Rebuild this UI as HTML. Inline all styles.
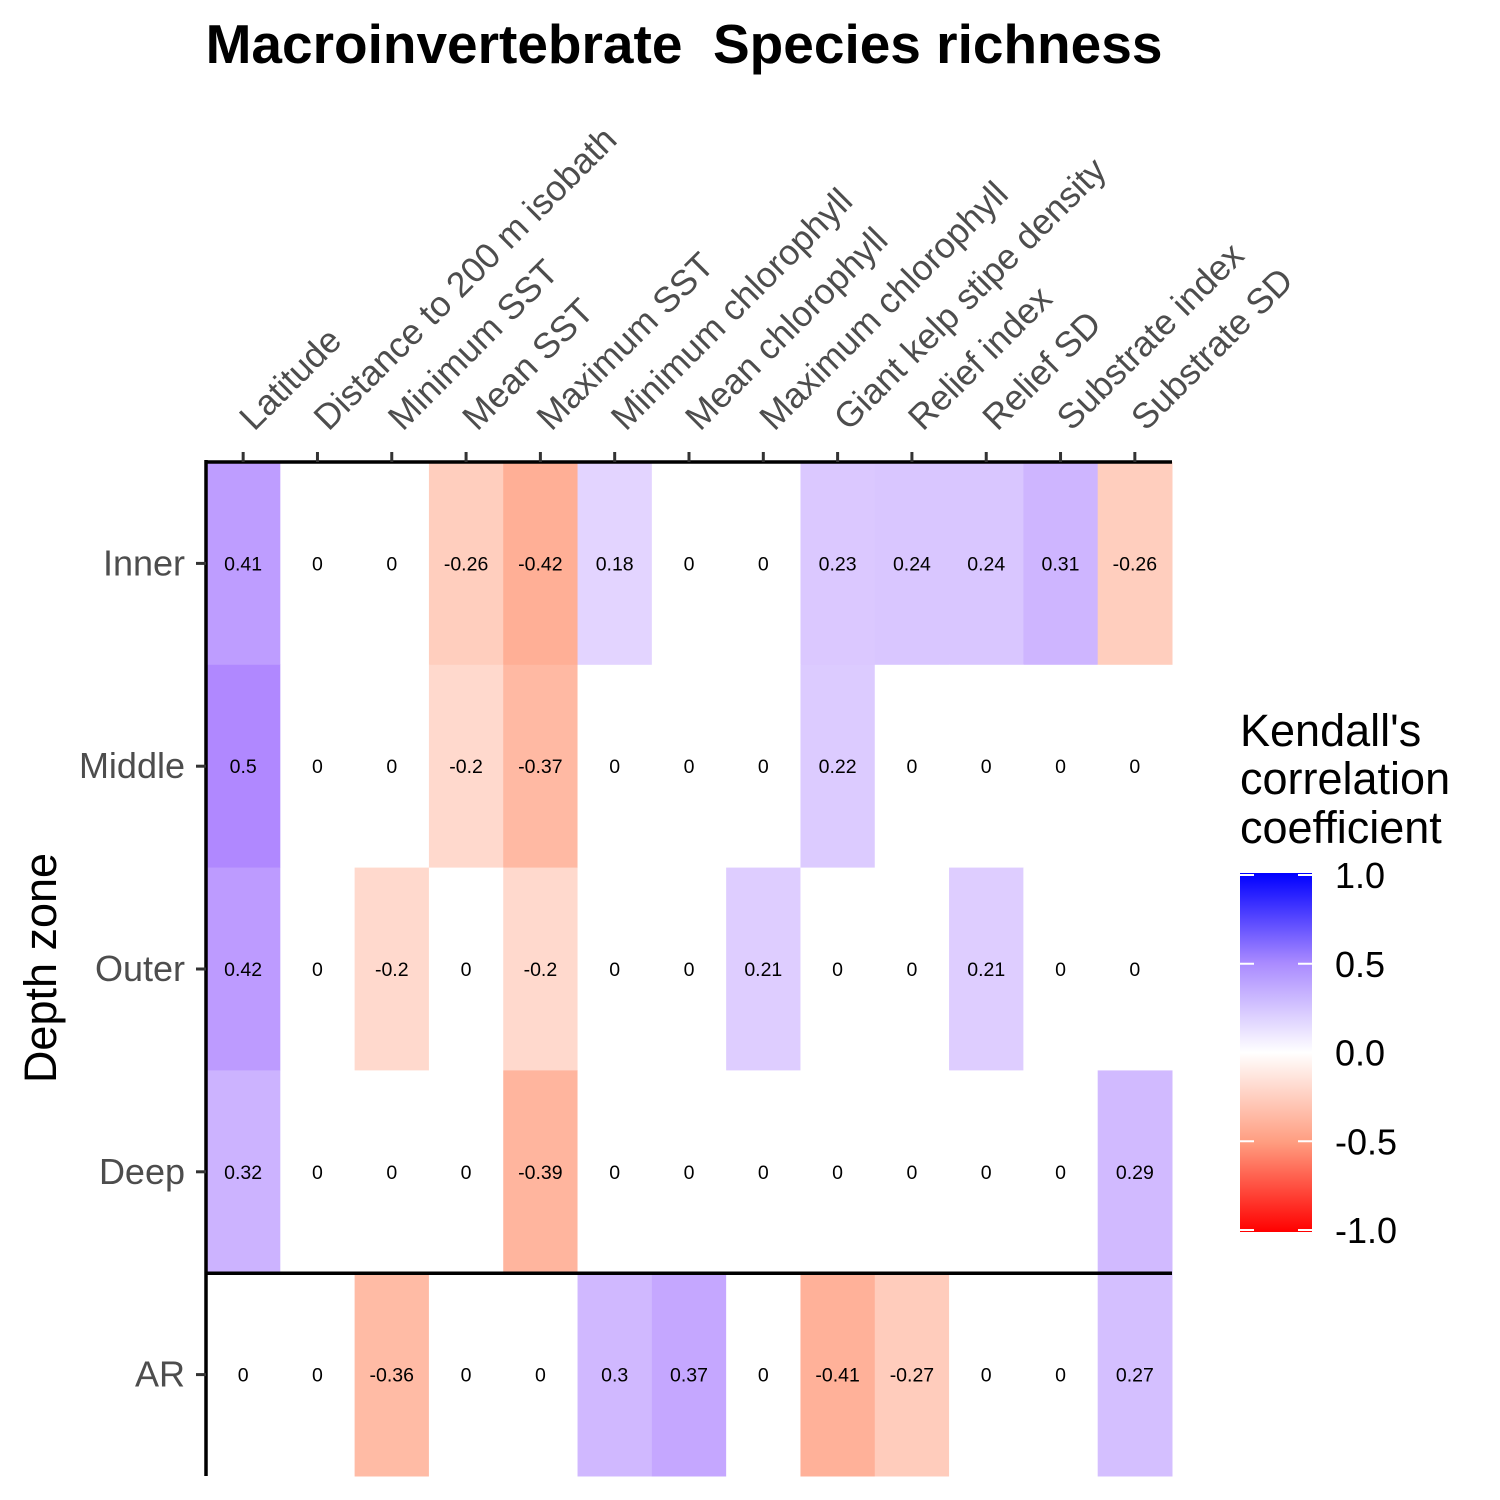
<!DOCTYPE html>
<html><head><meta charset="utf-8"><style>
html,body{margin:0;padding:0;background:#fff;}
svg{display:block;font-family:"Liberation Sans",Arial,sans-serif;}
</style></head><body>
<svg id="chart" width="1500" height="1500" viewBox="0 0 1500 1500" xmlns="http://www.w3.org/2000/svg">
<defs>
<linearGradient id="lg" x1="0" y1="0" x2="0" y2="1">
<stop offset="0" stop-color="#0000ff"/>
<stop offset="0.25" stop-color="#a98aff"/>
<stop offset="0.5" stop-color="#ffffff"/>
<stop offset="0.75" stop-color="#ff9d80"/>
<stop offset="1" stop-color="#ff0000"/>
</linearGradient>
</defs>
<text x="684" y="63" text-anchor="middle" font-size="55" font-weight="bold">Macroinvertebrate&#160; Species richness</text>
<text transform="translate(56,968) rotate(-90)" text-anchor="middle" font-size="45">Depth zone</text>
<g id="cells"></g>
<g id="axes"></g>
<g>
<text x="1240" y="746" font-size="45">Kendall's</text>
<text x="1240" y="794" font-size="45">correlation</text>
<text x="1240" y="843" font-size="45">coefficient</text>
<rect x="1240" y="873" width="72" height="359" fill="url(#lg)"/>
<g id="legticks"></g>
</g>
<script>
const cols=["Latitude","Distance to 200 m isobath","Minimum SST","Mean SST","Maximum SST","Minimum chlorophyll","Mean chlorophyll","Maximum chlorophyll","Giant kelp stipe density","Relief index","Relief SD","Substrate index","Substrate SD"];
const rows=["Inner","Middle","Outer","Deep","AR"];
const vInner=[0.41,0,0,-0.26,-0.42,0.18,0,0,0.23,0.24,0.24,0.31,-0.26];
const vMiddle=[0.5,0,0,-0.2,-0.37,0,0,0,0.22,0,0,0,0];
const vOuter=[0.42,0,-0.2,0,-0.2,0,0,0.21,0,0,0.21,0,0];
const vDeep=[0.32,0,0,0,-0.39,0,0,0,0,0,0,0,0.29];
const vAR=[0,0,-0.36,0,0,0.3,0.37,0,-0.41,-0.27,0,0,0.27];
const legendTicks=[1.0,0.5,0.0,-0.5,-1.0];
const legendLabels=["1.0","0.5","0.0","-0.5","-1.0"];
const values=[vInner,vMiddle,vOuter,vDeep,vAR];
const NS="http://www.w3.org/2000/svg";
const X0=206,X1=1172,Y0=462,Y1=1476;
const cw=(X1-X0)/cols.length, rh=(Y1-Y0)/rows.length;
function xs(i){return X0+i*cw;}
function ys(j){return Y0+j*rh;}
function color(v){
 if(v>=0){return `rgb(${Math.round(255-v*158)},${Math.round(255-v*238)},255)`;}
 const a=-v;return `rgb(255,${Math.round(255-a*190)},${Math.round(255-a*250)})`;
}
function mk(t,attrs,parent){const e=document.createElementNS(NS,t);for(const k in attrs)e.setAttribute(k,attrs[k]);parent.appendChild(e);return e;}
const cg=document.getElementById('cells');
values.forEach((r,j)=>r.forEach((v,i)=>{
 const rc=mk('rect',{x:xs(i),y:ys(j),width:cw+0.5,height:rh+0.5,fill:color(v)},cg);
 
 
 const t=mk('text',{x:xs(i)+cw/2,y:ys(j)+rh/2+7,'text-anchor':'middle','font-size':19.5},cg);
 t.textContent=String(v);
 
 
}));
const ag=document.getElementById('axes');
mk('line',{x1:X0,y1:Y0,x2:X1,y2:Y0,stroke:'#000','stroke-width':3.5},ag);
mk('line',{x1:X0,y1:Y0-2,x2:X0,y2:Y1,stroke:'#000','stroke-width':3.5},ag);
mk('line',{x1:X0,y1:ys(4),x2:X1,y2:ys(4),stroke:'#000','stroke-width':3.5},ag);
cols.forEach((c,i)=>{
 const cx=xs(i)+cw/2;
 mk('line',{x1:cx,y1:Y0-10,x2:cx,y2:Y0,stroke:'#333','stroke-width':3},ag);
 const t=mk('text',{transform:`translate(${cx+11},${Y0-30}) rotate(-45)`,'font-size':35.5,fill:'#4d4d4d'},ag);
 t.textContent=c;
 
 
});
rows.forEach((r,j)=>{
 const cy=ys(j)+rh/2;
 mk('line',{x1:X0-10,y1:cy,x2:X0,y2:cy,stroke:'#333','stroke-width':3},ag);
 const t=mk('text',{x:185,y:cy+12,'text-anchor':'end','font-size':36,fill:'#4d4d4d'},ag);
 t.textContent=r;
 
 
});
const lg=document.getElementById('legticks');
const LY0=875,LY1=1230;
legendTicks.forEach((v,k)=>{
 const y=LY0+(1-v)/2*(LY1-LY0);
 mk('line',{x1:1240,y1:y,x2:1254,y2:y,stroke:'#fff','stroke-width':2},lg);
 mk('line',{x1:1298,y1:y,x2:1312,y2:y,stroke:'#fff','stroke-width':2},lg);
 const t=mk('text',{x:1335,y:y+13,'font-size':36},lg);
 t.textContent=legendLabels[k];
 
 
});
</script>
</svg>
</body></html>
